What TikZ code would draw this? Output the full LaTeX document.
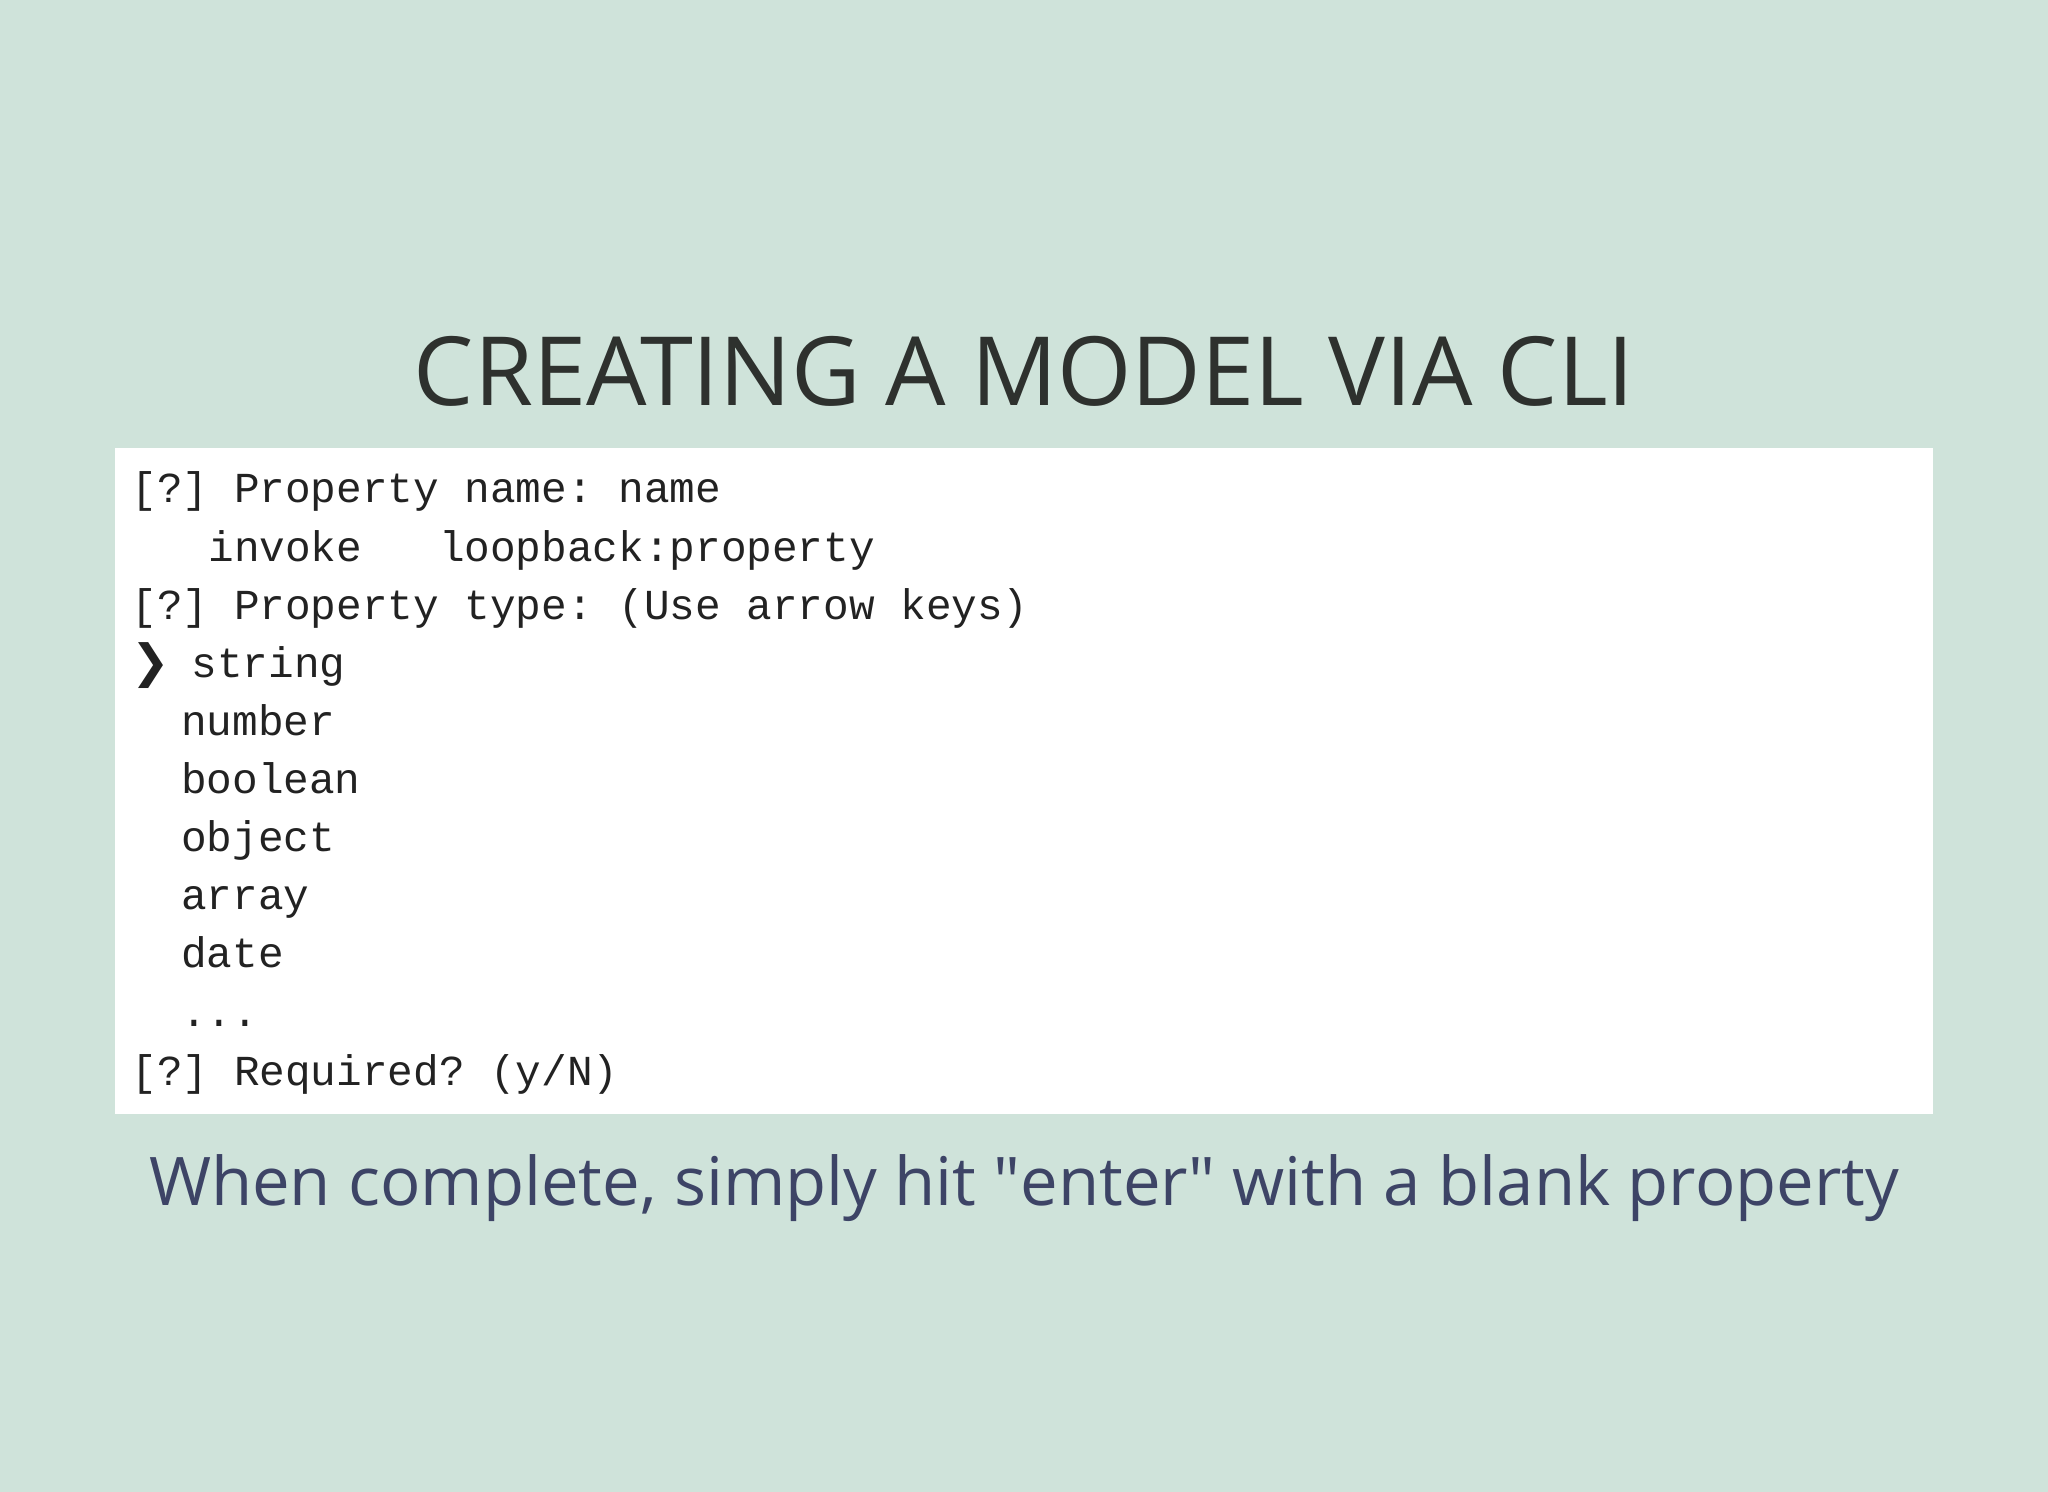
\documentclass[tikz,border=0pt]{standalone}
\usepackage{fontspec}
\setmainfont{Open Sans}
\setmonofont{Liberation Mono}
\newfontfamily\symfont{DejaVu Sans}
\definecolor{bgcol}{HTML}{CFE3DA}
\definecolor{titlecol}{HTML}{2E312E}
\definecolor{subcol}{HTML}{3D4466}
\definecolor{termcol}{HTML}{222222}
\tikzset{
  term/.style={anchor=base west,inner sep=0pt,text=termcol,font=\fontsize{9.3}{11}\ttfamily},
}
\begin{document}
\begin{tikzpicture}[x=0.01cm,y=-0.01cm]
\fill[bgcol] (0,0) rectangle (1568,1142);
\useasboundingbox (0,0) rectangle (1568,1142);
\fill[white] (88,343) rectangle (1480,853);
\node[inner sep=0pt,text=titlecol,font=\fontsize{20.8}{25}\selectfont] (title) at (784,284) {CREATING A MODEL VIA CLI};
% terminal lines
\node[term] (l1) at (100,385) {[?]~Property~name:~name};
\node[term] (l2) at (100,430) {~~~invoke~~~loopback:property};
\node[term] (l3) at (100,474) {[?]~Property~type:~(Use~arrow~keys)};
\node[term,font=\fontsize{10}{11}\symfont] (l4a) at (100,519) {❯};
\node[term] (l4) at (146,519) {string};
\foreach \t [count=\i from 5] in {number,boolean,object,array,date}
  \node[term] (l\i) at (138,{385+44.5*(\i-1)}) {\t};
\node[term] (l10) at (138,786) {...};
\node[term] (l11) at (100,831) {[?]~Required?~(y/N)};
\node[inner sep=0pt,text=subcol,font=\fontsize{14.6}{18}\selectfont] (sub) at (784,910) {When complete, simply hit \textquotedbl enter\textquotedbl{} with a blank property};
\end{tikzpicture}
\end{document}
